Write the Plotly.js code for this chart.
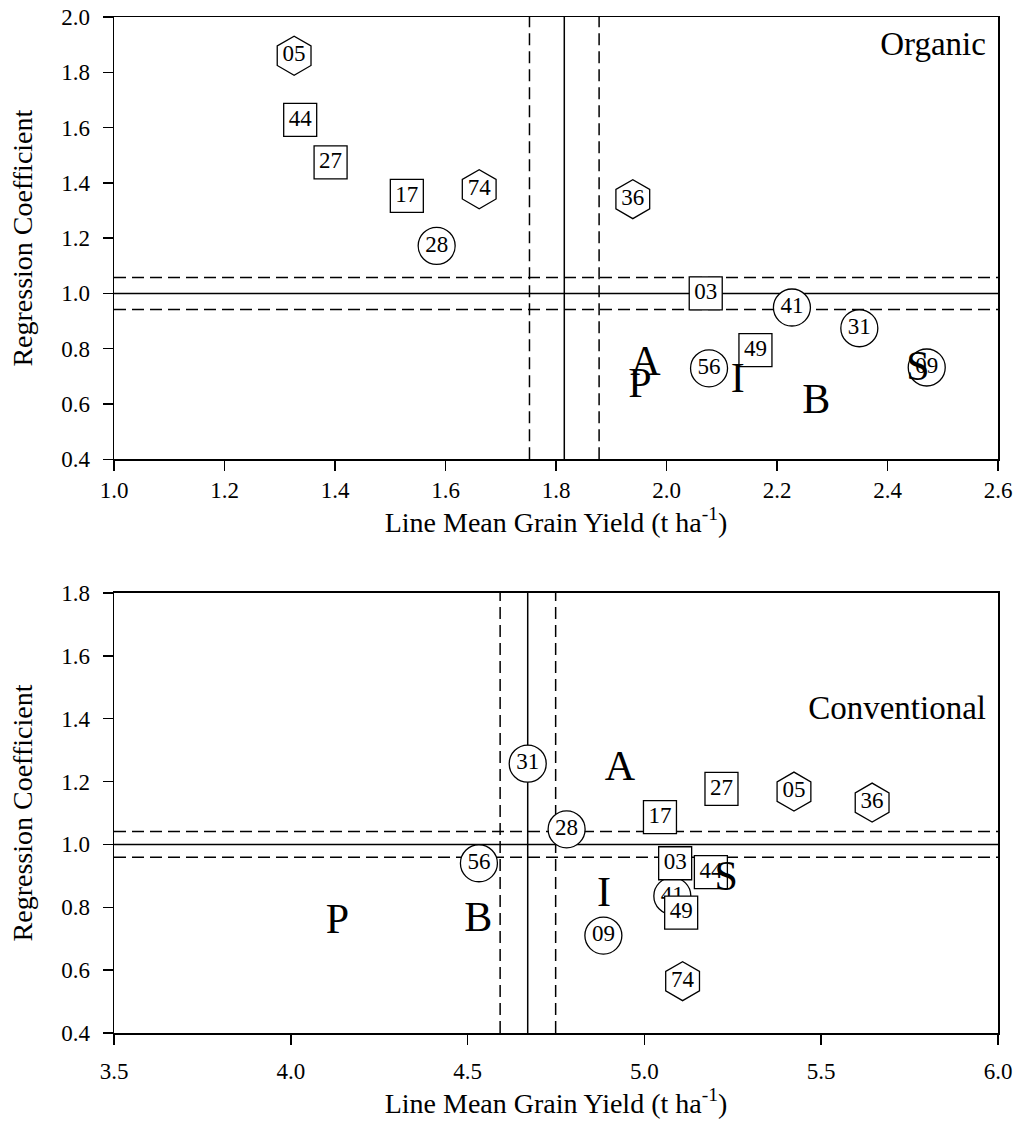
<!DOCTYPE html>
<html>
<head>
<meta charset="utf-8">
<script src="https://cdn.plot.ly/plotly-3.0.1.min.js"></script>
<style>
  html, body { margin: 0; padding: 0; background: #fff; }
  #chart { width: 1016px; height: 1128px; }
</style>
</head>
<body>
<div id="chart"></div>
<script>
// ---------- Organic panel data ----------
const orgXRange = [1.0, 2.6];
const orgYRange = [0.4, 2.0];
const orgMeanYield = 1.815;
const orgYieldCI = [1.752, 1.878];
const orgMeanB = 1.0;
const orgBCI = [0.942, 1.058];

const orgCircleIds = ["28", "41", "31", "56", "09"];
const orgCircleX = [1.584, 2.227, 2.349, 2.077, 2.471];
const orgCircleY = [1.172, 0.949, 0.874, 0.729, 0.732];

const orgSquareIds = ["44", "27", "17", "03", "49"];
const orgSquareX = [1.337, 1.392, 1.530, 2.071, 2.161];
const orgSquareY = [1.628, 1.474, 1.353, 1.000, 0.795];

const orgHexIds = ["05", "74", "36"];
const orgHexX = [1.326, 1.661, 1.939];
const orgHexY = [1.860, 1.377, 1.341];

const orgLetters = ["A", "P", "I", "B", "S"];
const orgLetterX = [1.962, 1.952, 2.129, 2.271, 2.455];
const orgLetterY = [0.744, 0.662, 0.683, 0.606, 0.726];

const orgLabel = ["Organic"];
const orgLabelX = [2.578];
const orgLabelY = [1.891];

// ---------- Conventional panel data ----------
const convXRange = [3.5, 6.0];
const convYRange = [0.4, 1.8];
const convMeanYield = 4.670;
const convYieldCI = [4.592, 4.749];
const convMeanB = 1.0;
const convBCI = [0.959, 1.041];

const convCircleIds = ["31", "28", "56", "41", "09"];
const convCircleX = [4.670, 4.780, 4.532, 5.079, 4.884];
const convCircleY = [1.257, 1.048, 0.940, 0.836, 0.710];

const convSquareIds = ["27", "17", "03", "44", "49"];
const convSquareX = [5.218, 5.044, 5.087, 5.188, 5.104];
const convSquareY = [1.177, 1.087, 0.940, 0.912, 0.783];

const convHexIds = ["05", "36", "74"];
const convHexX = [5.423, 5.644, 5.108];
const convHexY = [1.168, 1.133, 0.565];

const convLetters = ["A", "I", "S", "B", "P"];
const convLetterX = [4.931, 4.886, 5.231, 4.530, 4.132];
const convLetterY = [1.239, 0.836, 0.889, 0.758, 0.751];

const convLabel = ["Conventional"];
const convLabelX = [5.966];
const convLabelY = [1.425];

// ---------- styling ----------
const FONT = "Liberation Serif";
const lineStyle = { color: "black", width: 1.5 };
const dashStyle = { color: "black", width: 1.5, dash: "12px,6px" };

function refLines(xa, ya, xr, yr, mx, ci, mb, bci) {
  const t = [];
  const mk = (x, y, line) => ({
    type: "scatter", mode: "lines", x: x, y: y, xaxis: xa, yaxis: ya,
    line: line, hoverinfo: "skip", showlegend: false, cliponaxis: true
  });
  t.push(mk([ci[0], ci[0]], yr, dashStyle));
  t.push(mk([ci[1], ci[1]], yr, dashStyle));
  t.push(mk([mx, mx], yr, lineStyle));
  t.push(mk(xr, [bci[0], bci[0]], dashStyle));
  t.push(mk(xr, [bci[1], bci[1]], dashStyle));
  t.push(mk(xr, [mb, mb], lineStyle));
  return t;
}

function markerTrace(xa, ya, x, y, ids, symbol, size) {
  return {
    type: "scatter", mode: "markers+text", x: x, y: y, text: ids,
    xaxis: xa, yaxis: ya, textposition: "middle center",
    textfont: { family: FONT, size: 23, color: "black" },
    marker: { symbol: symbol, size: size, color: "white",
              line: { color: "black", width: 1.3 } },
    hoverinfo: "skip", showlegend: false, cliponaxis: false
  };
}

function textTrace(xa, ya, x, y, txt, size, pos) {
  return {
    type: "scatter", mode: "text", x: x, y: y, text: txt,
    xaxis: xa, yaxis: ya, textposition: pos,
    textfont: { family: FONT, size: size, color: "black" },
    hoverinfo: "skip", showlegend: false, cliponaxis: false
  };
}

const data = [].concat(
  refLines("x", "y", orgXRange, orgYRange, orgMeanYield, orgYieldCI, orgMeanB, orgBCI),
  refLines("x2", "y2", convXRange, convYRange, convMeanYield, convYieldCI, convMeanB, convBCI),
  [
    markerTrace("x", "y", orgCircleX, orgCircleY, orgCircleIds, "circle", 37),
    markerTrace("x", "y", orgSquareX, orgSquareY, orgSquareIds, "square", 33),
    markerTrace("x", "y", orgHexX, orgHexY, orgHexIds, "hexagon", 39),
    markerTrace("x2", "y2", convCircleX, convCircleY, convCircleIds, "circle", 37),
    markerTrace("x2", "y2", convSquareX, convSquareY, convSquareIds, "square", 33),
    markerTrace("x2", "y2", convHexX, convHexY, convHexIds, "hexagon", 39),
    textTrace("x", "y", orgLetterX, orgLetterY, orgLetters, 42, "middle center"),
    textTrace("x2", "y2", convLetterX, convLetterY, convLetters, 42, "middle center"),
    textTrace("x", "y", orgLabelX, orgLabelY, orgLabel, 33, "middle left"),
    textTrace("x2", "y2", convLabelX, convLabelY, convLabel, 33, "middle left")
  ]
);

function xAxis(range, dtick, anchor, domain, labelGap) {
  return {
    domain: domain, anchor: anchor, range: range, dtick: dtick, tick0: range[0],
    tickformat: ".1f", ticks: "outside", ticklen: 10, tickwidth: 1.5, tickcolor: "black",
    ticklabelstandoff: labelGap,
    showline: true, mirror: true, linewidth: 1.5, linecolor: "black",
    showgrid: false, zeroline: false, automargin: false,
    tickfont: { family: FONT, size: 23, color: "black" },
    title: { text: "Line Mean Grain Yield (t ha<sup>-1</sup>)",
             font: { family: FONT, size: 28, color: "black" }, standoff: 10 }
  };
}
function yAxis(range, anchor, domain) {
  return {
    domain: domain, anchor: anchor, range: range, dtick: 0.2, tick0: 0.4,
    tickformat: ".1f", ticks: "outside", ticklen: 10, tickwidth: 1.5, tickcolor: "black",
    ticklabelstandoff: 8,
    showline: true, mirror: true, linewidth: 1.5, linecolor: "black",
    showgrid: false, zeroline: false, automargin: false,
    tickfont: { family: FONT, size: 23, color: "black" },
    title: { text: "Regression Coefficient",
             font: { family: FONT, size: 28, color: "black" }, standoff: 20 }
  };
}

const layout = {
  width: 1016, height: 1128,
  margin: { l: 114, r: 18, t: 17, b: 95 },
  paper_bgcolor: "white", plot_bgcolor: "white",
  font: { family: FONT, color: "black" },
  showlegend: false, hovermode: false,
  xaxis: xAxis(orgXRange, 0.2, "y", [0, 1], 0),
  yaxis: yAxis(orgYRange, "x", [0.5647, 1]),
  xaxis2: xAxis(convXRange, 0.5, "y2", [0, 1], 7),
  yaxis2: yAxis(convYRange, "x2", [0, 0.4331])
};

Plotly.newPlot("chart", data, layout, { staticPlot: true, displayModeBar: false });
</script>
</body>
</html>
